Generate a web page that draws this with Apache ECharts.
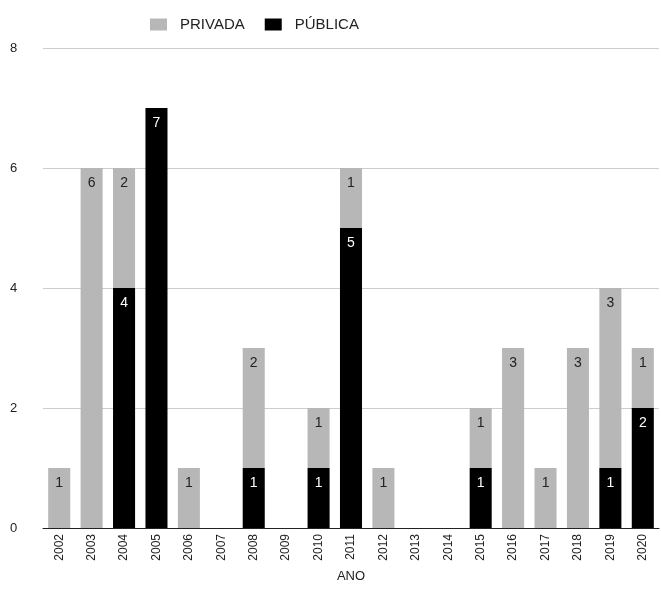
<!DOCTYPE html>
<html>
<head>
<meta charset="utf-8">
<script src="https://cdn.jsdelivr.net/npm/echarts@6/dist/echarts.min.js"></script>
<style>
  html, body { margin: 0; padding: 0; background: #fff; }
  #chart { width: 661px; height: 596px; }
</style>
</head>
<body>
<div id="chart"></div>
<script>
// anos e contagens
const anos = ['2002','2003','2004','2005','2006','2007','2008','2009','2010','2011',
              '2012','2013','2014','2015','2016','2017','2018','2019','2020'];
const privada = [1, 6, 2, 0, 1, 0, 2, 0, 1, 1, 1, 0, 0, 1, 3, 1, 3, 3, 1];
const publica = [0, 0, 4, 7, 0, 0, 1, 0, 1, 5, 0, 0, 0, 1, 0, 0, 0, 1, 2];
const yTicks = [0, 2, 4, 6, 8];

const fonte = 'Liberation Sans, Arial, sans-serif';

function semZero(arr) {
  return arr.map(v => v === 0 ? '-' : v);
}

const chart = echarts.init(document.getElementById('chart'));
chart.setOption({
  animation: false,
  textStyle: { fontFamily: fonte },
  legend: {
    data: ['PRIVADA', 'PÚBLICA'],
    left: 145,
    top: 12,
    itemWidth: 17,
    itemHeight: 12,
    itemGap: 20,
    icon: 'rect',
    textStyle: { fontSize: 15, color: '#222', fontFamily: fonte, padding: [0, 0, 0, 8] }
  },
  grid: { left: 43, right: 2, top: 48, bottom: 68 },
  xAxis: {
    type: 'category',
    data: anos,
    name: 'ANO',
    nameLocation: 'middle',
    nameGap: 42,
    nameTextStyle: { fontSize: 13, color: '#222' },
    axisLine: { lineStyle: { color: '#222', width: 1 } },
    axisTick: { show: false },
    axisLabel: { rotate: 90, fontSize: 12, color: '#222', margin: 6 }
  },
  yAxis: {
    type: 'value',
    min: yTicks[0],
    max: yTicks[yTicks.length - 1],
    interval: 2,
    axisLine: { show: false },
    axisTick: { show: false },
    axisLabel: { fontSize: 13, color: '#222', margin: 33, align: 'left' },
    splitLine: { lineStyle: { color: '#cccccc' } }
  },
  series: [
    {
      name: 'PÚBLICA',
      type: 'bar',
      stack: 'total',
      barWidth: '68%',
      data: semZero(publica),
      itemStyle: { color: '#000000' },
      label: {
        show: true,
        position: 'insideTop',
        distance: 8,
        color: '#ffffff',
        fontSize: 14,
        fontFamily: fonte
      }
    },
    {
      name: 'PRIVADA',
      type: 'bar',
      stack: 'total',
      barWidth: '68%',
      data: semZero(privada),
      itemStyle: { color: '#b7b7b7' },
      label: {
        show: true,
        position: 'insideTop',
        distance: 8,
        color: '#222222',
        fontSize: 14,
        fontFamily: fonte
      }
    }
  ]
});
</script>
</body>
</html>
